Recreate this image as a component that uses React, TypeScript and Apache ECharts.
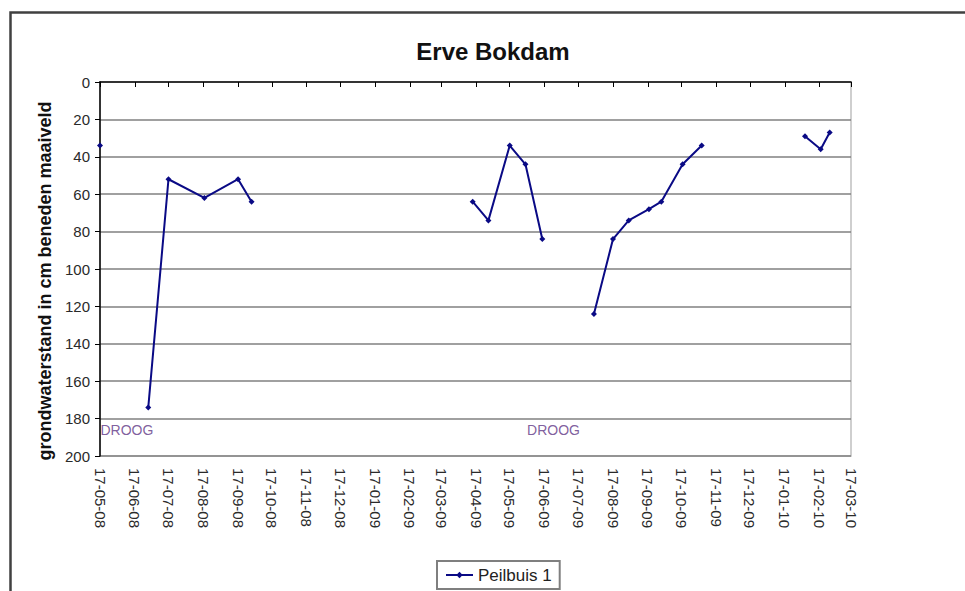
import React, { useEffect, useRef } from "react";
import * as echarts from "echarts";

// Measurement dates (dd-mm-yy) and groundwater depth (cm below surface); null = no value / dry
const measureDates = [
  "17-05-08", "10-06-08", "29-06-08", "17-07-08", "18-08-08", "17-09-08", "29-09-08",
  "17-01-09",
  "14-04-09", "28-04-09", "17-05-09", "31-05-09", "15-06-09", "25-06-09",
  "31-07-09", "17-08-09", "31-08-09", "18-09-09", "29-09-09", "18-10-09", "04-11-09",
  "17-12-09",
  "04-02-10", "18-02-10", "26-02-10",
];
const peilbuis1 = [
  34, null, 174, 52, 62, 52, 64,
  null,
  64, 74, 34, 44, 84, null,
  124, 84, 74, 68, 64, 44, 34,
  null,
  29, 36, 27,
];

// "DROOG" (dry) annotations
const droogDates = ["10-06-08", "25-06-09"];
const droogLevel = [186, 186];

// Axis tick labels
const tickLabels = [
  "17-05-08", "17-06-08", "17-07-08", "17-08-08", "17-09-08", "17-10-08", "17-11-08",
  "17-12-08", "17-01-09", "17-02-09", "17-03-09", "17-04-09", "17-05-09", "17-06-09",
  "17-07-09", "17-08-09", "17-09-09", "17-10-09", "17-11-09", "17-12-09", "17-01-10",
  "17-02-10", "17-03-10",
];
const yTicks = [0, 20, 40, 60, 80, 100, 120, 140, 160, 180, 200];

const parseD = (s: string) => {
  const [d, m, y] = s.split("-").map(Number);
  return Date.UTC(2000 + y, m - 1, d);
};
const pad = (n: number) => (n < 10 ? "0" + n : "" + n);
const fmt = (v: number) => {
  const d = new Date(v);
  return `${pad(d.getUTCDate())}-${pad(d.getUTCMonth() + 1)}-${pad(d.getUTCFullYear() % 100)}`;
};

const FONT = "Arial, 'Liberation Sans', sans-serif";

export default function App() {
  const ref = useRef<HTMLDivElement>(null);
  useEffect(() => {
    document.body.style.margin = "0";
    const chart = echarts.init(ref.current!, null, { renderer: "svg" });
    const ticks = tickLabels.map(parseD);
    const seriesData = measureDates.map((d, i) => [parseD(d), peilbuis1[i] === null ? "-" : peilbuis1[i]]);
    const droogData = droogDates.map((d, i) => [parseD(d), droogLevel[i]]);
    chart.setOption({
      animation: false,
      backgroundColor: "#ffffff",
      textStyle: { fontFamily: FONT },
      grid: {
        left: 100,
        top: 82,
        right: 114,
        bottom: 135,
        show: true,
        borderColor: "#c0c0c0",
        borderWidth: 1.5,
        containLabel: false,
      },
      legend: {
        data: ["Peilbuis 1"],
        left: 437,
        top: 561,
        padding: [5, 8, 5, 8],
        borderColor: "#7f7f7f",
        borderWidth: 2,
        itemWidth: 27,
        itemHeight: 8,
        itemGap: 5,
        textStyle: { fontSize: 17, color: "#222", fontFamily: FONT, lineHeight: 18 },
      },
      xAxis: {
        type: "value",
        min: ticks[0],
        max: ticks[ticks.length - 1],
        axisLine: { show: true, lineStyle: { color: "#000", width: 1.5 } },
        axisTick: { show: true, length: 5, lineStyle: { color: "#000", width: 1 }, customValues: ticks },
        axisLabel: {
          customValues: ticks,
          rotate: -90,
          margin: 12,
          fontSize: 15,
          color: "#2a2a2a",
          fontFamily: FONT,
          formatter: (v: number) => fmt(v),
        },
        splitLine: { show: false },
      },
      yAxis: {
        type: "value",
        inverse: true,
        min: yTicks[0],
        max: yTicks[yTicks.length - 1],
        interval: 20,
        axisLine: { show: true, lineStyle: { color: "#000", width: 1.5 } },
        axisTick: { show: true, length: 5, lineStyle: { color: "#000", width: 1 } },
        axisLabel: { fontSize: 15, color: "#2a2a2a", margin: 10, fontFamily: FONT },
        splitLine: { show: true, showMinLine: false, lineStyle: { color: "#808080", width: 1.5 } },
      },
      series: [
        {
          name: "Peilbuis 1",
          type: "line",
          data: seriesData,
          connectNulls: false,
          showSymbol: true,
          showAllSymbol: true,
          symbol: "diamond",
          symbolSize: 6,
          clip: false,
          lineStyle: { color: "#0a0a85", width: 2 },
          itemStyle: { color: "#0a0a85" },
        },
        {
          name: "DROOG",
          type: "scatter",
          data: droogData,
          symbolSize: 0,
          silent: true,
          label: {
            show: true,
            position: "inside",
            formatter: () => "DROOG",
            fontSize: 14,
            color: "#5e3585",
            fontFamily: FONT,
          },
        },
      ],
      graphic: [
        {
          type: "rect",
          left: 8,
          top: 10,
          shape: { width: 1000, height: 700 },
          style: { fill: "none", stroke: "#404040", lineWidth: 2.5 },
          silent: true,
        },
        {
          type: "text",
          x: 493,
          y: 51,
          style: {
            text: "Erve Bokdam",
            font: `bold 24px ${FONT}`,
            fill: "#111",
            textAlign: "center",
            textVerticalAlign: "middle",
          },
        },
        {
          type: "text",
          x: 45,
          y: 281,
          rotation: Math.PI / 2,
          style: {
            text: "grondwaterstand in cm beneden maaiveld",
            font: `bold 18px ${FONT}`,
            fill: "#111",
            textAlign: "center",
            textVerticalAlign: "middle",
          },
        },
      ],
    });
    return () => chart.dispose();
  }, []);
  return <div ref={ref} style={{ width: 965, height: 591 }} />;
}
